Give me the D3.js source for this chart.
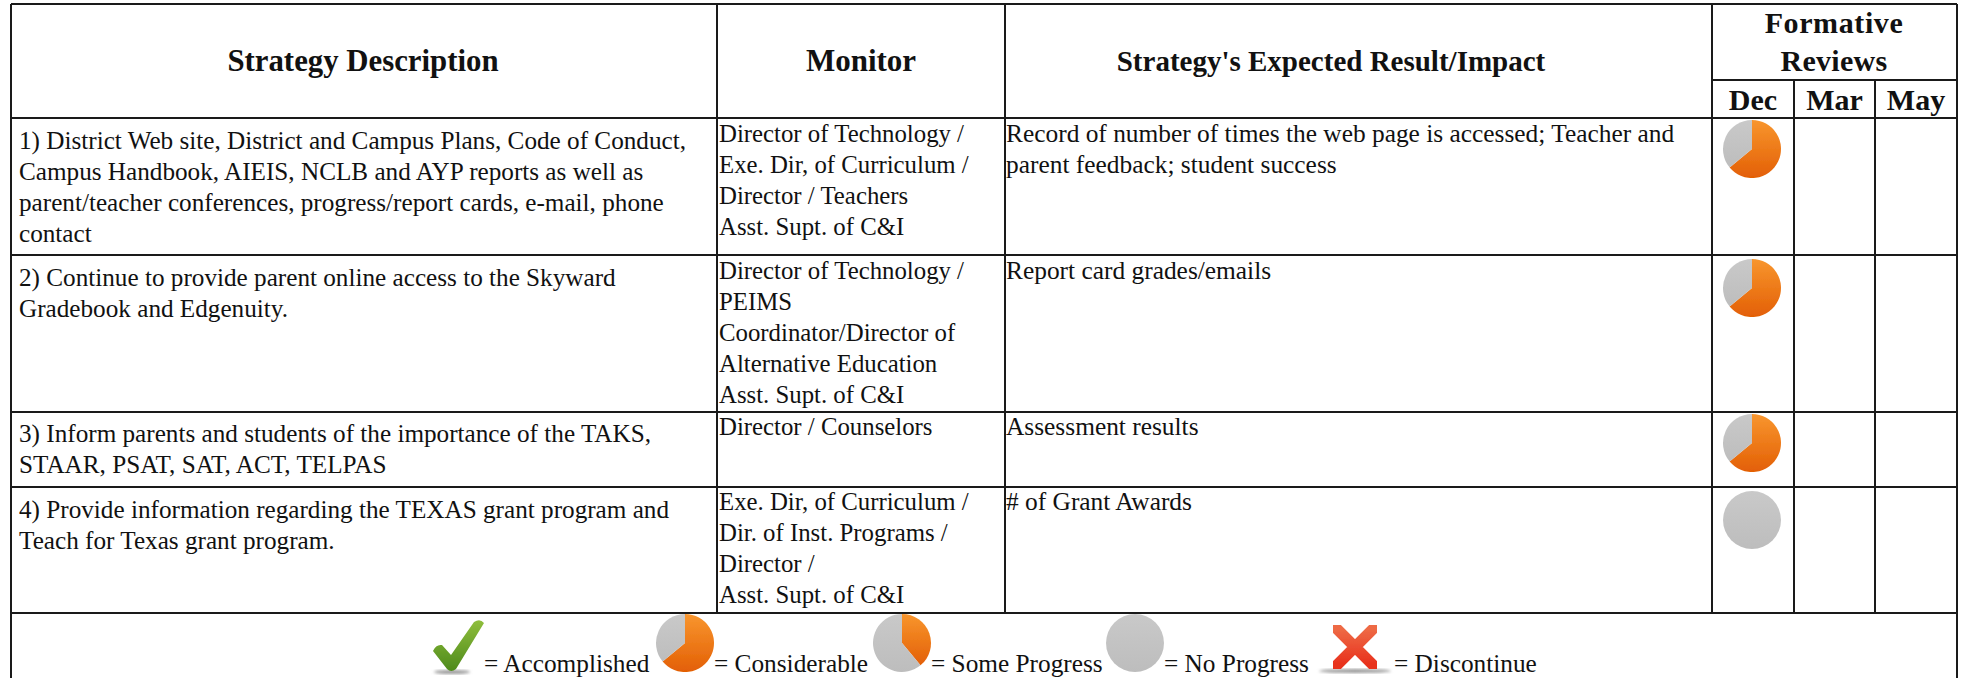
<!DOCTYPE html>
<html>
<head>
<meta charset="utf-8">
<script src="https://cdn.jsdelivr.net/npm/d3@7"></script>
<style>
html, body { margin: 0; padding: 0; background: #fff; overflow: hidden; }
text { font-family: "Liberation Serif", serif; fill: #111; }
</style>
</head>
<body>
<div id="chart"></div>
<script>
var headers = ["Strategy Description", "Monitor", "Strategy's Expected Result/Impact"];
var reviewTitle = ["Formative", "Reviews"];
var months = ["Dec", "Mar", "May"];

var strategies = [
    ["1) District Web site, District and Campus Plans, Code of Conduct,", "Campus Handbook, AIEIS, NCLB and AYP reports as well as", "parent/teacher conferences, progress/report cards, e-mail, phone", "contact"],
    ["2) Continue to provide parent online access to the Skyward", "Gradebook and Edgenuity."],
    ["3) Inform parents and students of the importance of the TAKS,", "STAAR, PSAT, SAT, ACT, TELPAS"],
    ["4) Provide information regarding the TEXAS grant program and", "Teach for Texas grant program."]
];
var monitors = [
    ["Director of Technology /", "Exe. Dir, of Curriculum /", "Director / Teachers", "Asst. Supt. of C&I"],
    ["Director of Technology /", "PEIMS", "Coordinator/Director of", "Alternative Education", "Asst. Supt. of C&I"],
    ["Director / Counselors"],
    ["Exe. Dir, of Curriculum /", "Dir. of Inst. Programs /", "Director /", "Asst. Supt. of C&I"]
];
var impacts = [
    ["Record of number of times the web page is accessed; Teacher and", "parent feedback; student success"],
    ["Report card grades/emails"],
    ["Assessment results"],
    ["# of Grant Awards"]
];
// share of the pie that is orange in the Dec column
var decProgress = [0.64, 0.64, 0.64, 0];

var legendLabels = ["= Accomplished", "= Considerable", "= Some Progress", "= No Progress", "= Discontinue"];
var legendProgress = [0.64, 0.39, 0];

var width = 1963, height = 678;
var columnEdges = [11, 717, 1005, 1712, 1794, 1875, 1957];
var rowEdges = [118, 255, 412, 487, 613];
var lineHeight = 31;

var svg = d3.select("#chart").append("svg")
    .attr("width", width)
    .attr("height", height)
    .style("display", "block");

var defs = svg.append("defs");

function addGradient(id, top, bottom) {
    var g = defs.append("linearGradient").attr("id", id)
        .attr("x1", 0).attr("y1", 0).attr("x2", 0).attr("y2", 1);
    g.append("stop").attr("offset", "0%").attr("stop-color", top);
    g.append("stop").attr("offset", "100%").attr("stop-color", bottom);
}
addGradient("orange", "#f8962e", "#e35f05");
addGradient("grey", "#c9c9c9", "#bdbdbd");
addGradient("check", "#8fbe3c", "#4e8a1c");
addGradient("cross", "#ee6a45", "#e8301c");
defs.append("filter").attr("id", "soft")
    .append("feGaussianBlur").attr("stdDeviation", 0.7);
defs.append("filter").attr("id", "shadow")
    .append("feGaussianBlur").attr("stdDeviation", 1.5);

function addText(parent, str, x, y, size, weight, anchor) {
    return parent.append("text")
        .attr("x", x)
        .attr("y", y)
        .attr("font-size", size)
        .attr("font-weight", weight || "normal")
        .attr("text-anchor", anchor || "start")
        .text(str);
}

var arc = d3.arc().innerRadius(0);
var pie = d3.pie().sort(null).value(function(d) { return d; });

function drawPie(cx, cy, r, progress) {
    var g = svg.append("g")
        .attr("transform", "translate(" + cx + "," + cy + ")")
        .attr("filter", "url(#soft)");
    g.selectAll("path")
        .data(pie([progress, 1 - progress]))
        .enter()
        .append("path")
        .attr("d", arc.outerRadius(r))
        .attr("fill", function(d, i) { return i == 0 ? "url(#orange)" : "url(#grey)"; });
}

// grid lines
var lines = svg.append("g").attr("stroke", "#1a1a1a").attr("stroke-width", 2);
function addLine(x1, y1, x2, y2) {
    lines.append("line").attr("x1", x1).attr("y1", y1).attr("x2", x2).attr("y2", y2);
}
addLine(columnEdges[0], 4, columnEdges[6], 4);
addLine(columnEdges[3], 80, columnEdges[6], 80);
rowEdges.forEach(function(y) { addLine(columnEdges[0], y, columnEdges[6], y); });
addLine(columnEdges[0], 4, columnEdges[0], height);
addLine(columnEdges[6], 4, columnEdges[6], height);
[1, 2, 3].forEach(function(i) { addLine(columnEdges[i], 4, columnEdges[i], rowEdges[4]); });
[4, 5].forEach(function(i) { addLine(columnEdges[i], 80, columnEdges[i], rowEdges[4]); });

// header
addText(svg, headers[0], 363, 71, 30.8, "bold", "middle");
addText(svg, headers[1], 861, 71, 31, "bold", "middle");
addText(svg, headers[2], 1331, 71, 29, "bold", "middle");
addText(svg, reviewTitle[0], 1834, 33, 30, "bold", "middle").attr("letter-spacing", 0.6);
addText(svg, reviewTitle[1], 1834, 71, 30, "bold", "middle").attr("letter-spacing", 0.3);
months.forEach(function(m, i) {
    addText(svg, m, (columnEdges[i + 3] + columnEdges[i + 4]) / 2, 110, 30, "bold", "middle");
});

// body rows
var strategyFirst = [149, 286, 442, 518];
var otherFirst = [142, 279, 435, 510];
var pieCenters = [149, 288, 443, 520];
d3.range(4).forEach(function(r) {
    strategies[r].forEach(function(t, i) {
        addText(svg, t, 19, strategyFirst[r] + i * lineHeight, 25.2);
    });
    monitors[r].forEach(function(t, i) {
        addText(svg, t, 719, otherFirst[r] + i * lineHeight, 24.8);
    });
    impacts[r].forEach(function(t, i) {
        addText(svg, t, 1006, otherFirst[r] + i * lineHeight, 25.4);
    });
    drawPie(1752, pieCenters[r], 29, decProgress[r]);
});

// legend
var legendBase = 672;
var legendTextX = [484, 714, 931, 1164, 1394];
legendLabels.forEach(function(t, i) {
    addText(svg, t, legendTextX[i], legendBase, 25.3);
});
[685, 902, 1135].forEach(function(cx, i) {
    drawPie(cx, 643, 29, legendProgress[i]);
});

// check mark
svg.append("ellipse")
    .attr("cx", 452).attr("cy", 672).attr("rx", 18).attr("ry", 2)
    .attr("fill", "#999").attr("filter", "url(#shadow)");
svg.append("path")
    .attr("d", "M433 651Q436 644 442 645L451 655L474 622Q480 618 484 623L456 669Q451 673 447 669Z")
    .attr("fill", "url(#check)")
    .attr("filter", "url(#soft)");

// cross
svg.append("ellipse")
    .attr("cx", 1355).attr("cy", 671).attr("rx", 36).attr("ry", 2)
    .attr("fill", "#999").attr("filter", "url(#shadow)");
svg.append("path")
    .attr("d", "M1337 629L1373 665M1373 629L1337 665")
    .attr("fill", "none")
    .attr("stroke", "url(#cross)")
    .attr("stroke-width", 11)
    .attr("stroke-linecap", "round")
    .attr("filter", "url(#soft)");
</script>
</body>
</html>
